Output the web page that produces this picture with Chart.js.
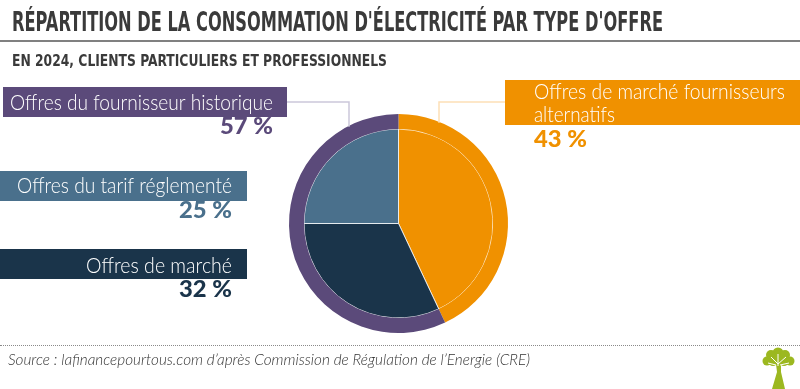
<!DOCTYPE html>
<html lang="fr">
<head>
<meta charset="utf-8">
<script src="https://cdn.jsdelivr.net/npm/chart.js@4/dist/chart.umd.min.js"></script>
<style>
  html, body { margin: 0; padding: 0; background: #fff; }
  #wrap { position: relative; width: 800px; height: 389px; overflow: hidden; color: #333; }
  #chart { position: absolute; left: 0; top: 0; }
  .fit { position: absolute; white-space: nowrap; transform-origin: 0 0; margin: 0; line-height: 1; }
  #title { left: 12px; top: 7px; font: bold 26px "DejaVu Sans Condensed", "DejaVu Sans", sans-serif; color: #3a3a3a; }
  #subtitle { left: 12px; top: 51px; font: bold 16px "DejaVu Sans Condensed", "DejaVu Sans", sans-serif; color: #3a3a3a; }
  #rule { position: absolute; left: 0; top: 40px; width: 800px; height: 2px; background: #808080; }
  #dots { position: absolute; left: 0; top: 345px; width: 800px; height: 0; border-top: 1px dotted #8a8a8a; }
  #source { left: 8px; top: 350px; font: italic 300 15px Lato, sans-serif; color: #333; }
</style>
</head>
<body>
<div id="wrap">
  <canvas id="chart" width="800" height="389"></canvas>
  <h1 id="title" class="fit" data-w="651">RÉPARTITION DE LA CONSOMMATION D'ÉLECTRICITÉ PAR TYPE D'OFFRE</h1>
  <div id="rule"></div>
  <h2 id="subtitle" class="fit" data-w="375">EN 2024, CLIENTS PARTICULIERS ET PROFESSIONNELS</h2>
  <div id="dots"></div>
  <p id="source" class="fit" data-w="522">Source : lafinancepourtous.com d’après Commission de Régulation de l’Energie (CRE)</p>
</div>
<script>
  // parts of the inner pie, clockwise from 12 o'clock
  const segmentLabels = ['Offres de marché fournisseurs alternatifs', 'Offres de marché', 'Offres du tarif réglementé'];
  const segmentValues = [43, 32, 25];
  // outer ring: alternative suppliers vs historical supplier (= marché + tarif réglementé)
  const groupLabels = ['Offres de marché fournisseurs alternatifs', 'Offres du fournisseur historique'];
  const groupValues = [43, 57];

  const ORANGE = '#f09100';
  const PURPLE = '#5b4a7a';
  const BLUE = '#4a708c';
  const NAVY = '#1a344a';

  // where each callout sits (layout only)
  const callouts = [
    { ds: 0, i: 1, color: PURPLE, line: '#cbc7da', box: [3, 87, 284, 30], textX: 273, align: 'right',
      baselines: [110], widths: [263], pctY: 134, pctW: 53, anchorX: 349, joinY: 102, joinX: 287 },
    { ds: 1, i: 2, color: BLUE, box: [0, 171, 247, 30], textX: 232, align: 'right',
      baselines: [193], widths: [215], pctY: 218, pctW: 53 },
    { ds: 1, i: 1, color: NAVY, box: [0, 249, 247, 30], textX: 232, align: 'right',
      baselines: [273], widths: [146], pctY: 297, pctW: 53 },
    { ds: 0, i: 0, color: ORANGE, line: '#fde0b6', box: [505, 80, 295, 45], textX: 534, align: 'left',
      baselines: [99, 122], widths: [251, 81], wrapAfter: 'fournisseurs', pctY: 147, pctW: 53,
      anchorX: 439, joinY: 102, joinX: 505 }
  ];

  function fitText(ctx, text, x, y, width, align) {
    const w = ctx.measureText(text).width;
    const s = width ? width / w : 1;
    ctx.save();
    ctx.translate(x, y);
    ctx.scale(s, 1);
    ctx.textAlign = align;
    ctx.fillText(text, 0, 0);
    ctx.restore();
  }

  function drawTree(ctx) {
    ctx.save();
    ctx.fillStyle = '#9cb820';
    // trunk
    ctx.beginPath();
    ctx.moveTo(772, 389);
    ctx.lineTo(777, 372);
    ctx.lineTo(776, 364);
    ctx.lineTo(781, 364);
    ctx.lineTo(781, 372);
    ctx.lineTo(785, 389);
    ctx.closePath();
    ctx.fill();
    // crown
    [[778, 353, 5.5], [771, 355, 5], [785, 355, 5], [767, 361, 4.5], [790, 361, 4.5],
     [773, 362, 4], [784, 362, 4], [778, 360, 5]].forEach(function (p) {
      ctx.beginPath();
      ctx.arc(p[0], p[1], p[2], 0, Math.PI * 2);
      ctx.fill();
    });
    // branches
    ctx.strokeStyle = '#ffffff';
    ctx.lineWidth = 1;
    ctx.beginPath();
    ctx.moveTo(778, 366); ctx.lineTo(778, 354);
    ctx.moveTo(778, 364); ctx.lineTo(771, 357);
    ctx.moveTo(778, 364); ctx.lineTo(786, 357);
    ctx.moveTo(776, 365); ctx.lineTo(768, 363);
    ctx.moveTo(780, 365); ctx.lineTo(789, 363);
    ctx.stroke();
    ctx.restore();
  }

  const calloutPlugin = {
    id: 'callouts',
    afterDatasetsDraw(chart) {
      const ctx = chart.ctx;
      const arc = chart.getDatasetMeta(0).data[0];
      const cx = arc.x, cy = arc.y, r = arc.outerRadius;

      callouts.forEach(function (c) {
        const labels = c.ds === 0 ? groupLabels : segmentLabels;
        const values = c.ds === 0 ? groupValues : segmentValues;
        const label = labels[c.i];
        const value = values[c.i];

        // connector from the box to the ring
        if (c.anchorX) {
          const endY = cy - Math.sqrt(r * r - Math.pow(c.anchorX - cx, 2));
          ctx.save();
          ctx.strokeStyle = c.line;
          ctx.lineWidth = 1.5;
          ctx.beginPath();
          ctx.moveTo(c.joinX, c.joinY);
          ctx.lineTo(c.anchorX, c.joinY);
          ctx.lineTo(c.anchorX, endY + 1);
          ctx.stroke();
          ctx.restore();
        }

        ctx.save();
        ctx.fillStyle = c.color;
        ctx.fillRect(c.box[0], c.box[1], c.box[2], c.box[3]);

        let lines = [label];
        if (c.wrapAfter) {
          const k = label.indexOf(c.wrapAfter) + c.wrapAfter.length;
          lines = [label.slice(0, k), label.slice(k + 1)];
        }
        ctx.fillStyle = '#ffffff';
        ctx.font = '300 22px Lato, sans-serif';
        ctx.textBaseline = 'alphabetic';
        lines.forEach(function (t, n) {
          fitText(ctx, t, c.textX, c.baselines[n], c.widths[n], c.align);
        });

        ctx.fillStyle = c.color;
        ctx.font = '900 22px Lato, sans-serif';
        fitText(ctx, value + ' %', c.textX, c.pctY, c.pctW, c.align);
        ctx.restore();
      });

      drawTree(ctx);
    }
  };

  new Chart(document.getElementById('chart'), {
    type: 'pie',
    data: {
      labels: segmentLabels,
      datasets: [
        {
          label: 'Fournisseurs',
          data: groupValues,
          backgroundColor: [ORANGE, PURPLE],
          borderWidth: 0,
          weight: 15
        },
        {
          label: 'Type d\'offre',
          data: segmentValues,
          backgroundColor: [ORANGE, NAVY, BLUE],
          borderColor: 'rgba(255,255,255,0.75)',
          borderWidth: 1,
          weight: 94
        }
      ]
    },
    options: {
      responsive: false,
      animation: false,
      events: [],
      layout: { padding: { left: 289, right: 292, top: 114, bottom: 56 } },
      plugins: {
        legend: { display: false },
        tooltip: { enabled: false }
      }
    },
    plugins: [calloutPlugin]
  });

  document.querySelectorAll('.fit').forEach(function (el) {
    const natural = el.getBoundingClientRect().width;
    el.style.transform = 'scaleX(' + (Number(el.dataset.w) / natural) + ')';
  });
</script>
</body>
</html>
